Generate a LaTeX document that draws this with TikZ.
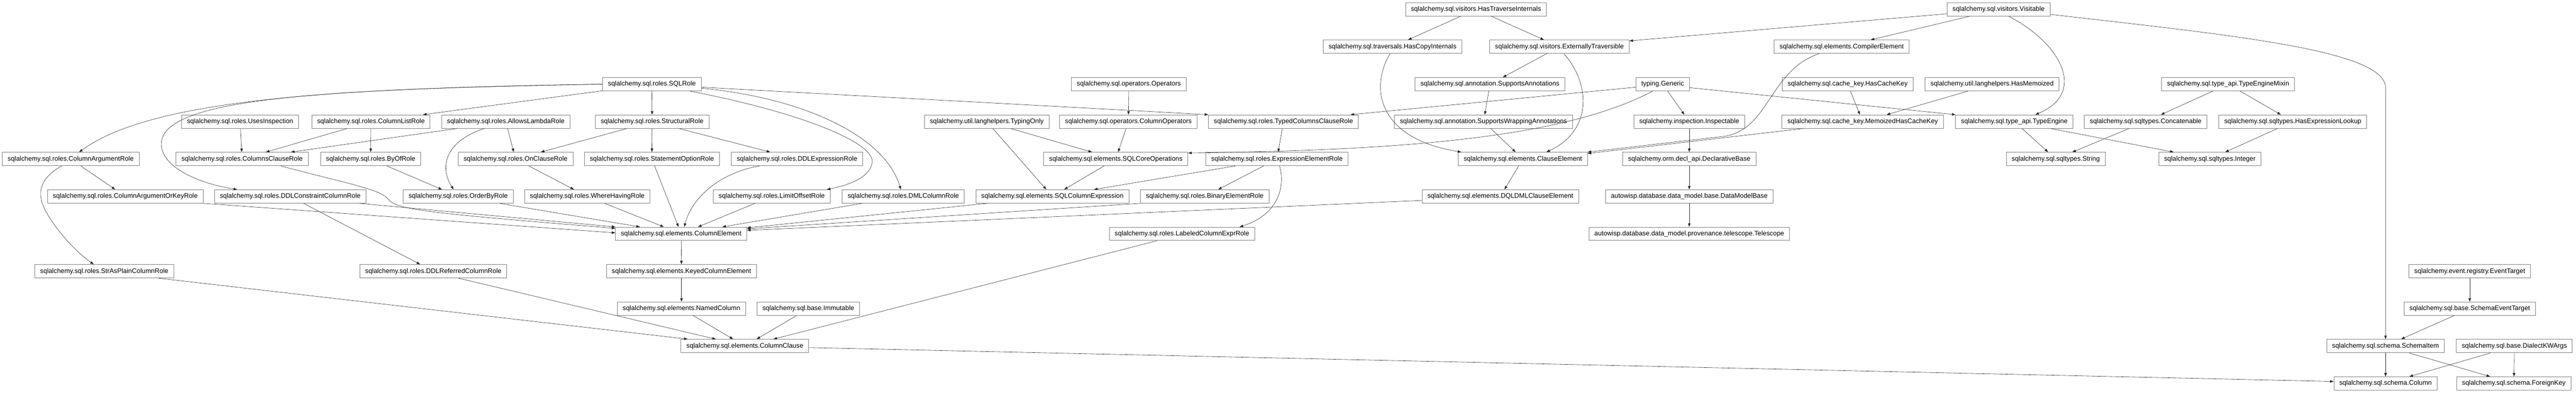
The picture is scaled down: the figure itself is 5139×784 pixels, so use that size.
\documentclass[tikz,border=0pt]{standalone}
\usepackage{fontspec}
\setmainfont{Liberation Sans}
\usetikzlibrary{arrows.meta}

\begin{document}
\begin{tikzpicture}[x=1pt,y=-1pt]
    \useasboundingbox (0,0) rectangle (5139,784);
    \begin{scope}[every node/.style={rectangle,draw=black!50,line width=1pt,
        inner xsep=10.8pt,inner ysep=0pt,minimum height=26.7pt,
        text height=9.6pt,text depth=2.6pt,font={\fontsize{13.2}{15}\selectfont}}]
        % row 0
        \node(hastraverse) at (2944.5,18.7) {sqlalchemy.sql.visitors.HasTraverseInternals};
        \node(visitable) at (3987,18.7) {sqlalchemy.sql.visitors.Visitable};
        % row 1
        \node(hascopy) at (2778,93.35) {sqlalchemy.sql.traversals.HasCopyInternals};
        \node(externtrav) at (3111,93.35) {sqlalchemy.sql.visitors.ExternallyTraversible};
        \node(compilerelem) at (3674,93.35) {sqlalchemy.sql.elements.CompilerElement};
        % row 2
        \node(sqlrole) at (1300.5,168) {sqlalchemy.sql.roles.SQLRole};
        \node(operators) at (2252,168) {sqlalchemy.sql.operators.Operators};
        \node(suppannot) at (2972.5,168) {sqlalchemy.sql.annotation.SupportsAnnotations};
        \node(generic) at (3317,168) {typing.Generic};
        \node(hascachekey) at (3686,168) {sqlalchemy.sql.cache\_key.HasCacheKey};
        \node(hasmemoized) at (3974,168) {sqlalchemy.util.langhelpers.HasMemoized};
        \node(typemixin) at (4445,168) {sqlalchemy.sql.type\_api.TypeEngineMixin};
        % row 3
        \node(usesinsp) at (479,242.65) {sqlalchemy.sql.roles.UsesInspection};
        \node(collist) at (740,242.65) {sqlalchemy.sql.roles.ColumnListRole};
        \node(allowslambda) at (1009,242.65) {sqlalchemy.sql.roles.AllowsLambdaRole};
        \node(structural) at (1301,242.65) {sqlalchemy.sql.roles.StructuralRole};
        \node(typingonly) at (1968.5,242.65) {sqlalchemy.util.langhelpers.TypingOnly};
        \node(colops) at (2251,242.65) {sqlalchemy.sql.operators.ColumnOperators};
        \node(typedcols) at (2560.5,242.65) {sqlalchemy.sql.roles.TypedColumnsClauseRole};
        \node(suppwrap) at (2959.5,242.65) {sqlalchemy.sql.annotation.SupportsWrappingAnnotations};
        \node(inspectable) at (3370,242.65) {sqlalchemy.inspection.Inspectable};
        \node(memoizedhck) at (3716,242.65) {sqlalchemy.sql.cache\_key.MemoizedHasCacheKey};
        \node(typeengine) at (4018.5,242.65) {sqlalchemy.sql.type\_api.TypeEngine};
        \node(concatenable) at (4280.5,242.65) {sqlalchemy.sql.sqltypes.Concatenable};
        \node(hasexprlookup) at (4574,242.65) {sqlalchemy.sql.sqltypes.HasExpressionLookup};
        % row 4
        \node(colarg) at (141,317.3) {sqlalchemy.sql.roles.ColumnArgumentRole};
        \node(colsclause) at (483,317.3) {sqlalchemy.sql.roles.ColumnsClauseRole};
        \node(byof) at (739.5,317.3) {sqlalchemy.sql.roles.ByOfRole};
        \node(onclause) at (1028.5,317.3) {sqlalchemy.sql.roles.OnClauseRole};
        \node(stmtoption) at (1300.5,317.3) {sqlalchemy.sql.roles.StatementOptionRole};
        \node(ddlexpr) at (1590,317.3) {sqlalchemy.sql.roles.DDLExpressionRole};
        \node(sqlcoreops) at (2226,317.3) {sqlalchemy.sql.elements.SQLCoreOperations};
        \node(exprelem) at (2547.5,317.3) {sqlalchemy.sql.roles.ExpressionElementRole};
        \node(clauseelem) at (3038,317.3) {sqlalchemy.sql.elements.ClauseElement};
        \node(declbase) at (3370,317.3) {sqlalchemy.orm.decl\_api.DeclarativeBase};
        \node(string) at (4101,317.3) {sqlalchemy.sql.sqltypes.String};
        \node(integer) at (4408.5,317.3) {sqlalchemy.sql.sqltypes.Integer};
        % row 5
        \node(colargkey) at (250,391.95) {sqlalchemy.sql.roles.ColumnArgumentOrKeyRole};
        \node(ddlconstraint) at (579,391.95) {sqlalchemy.sql.roles.DDLConstraintColumnRole};
        \node(orderby) at (914,391.95) {sqlalchemy.sql.roles.OrderByRole};
        \node(wherehaving) at (1171.5,391.95) {sqlalchemy.sql.roles.WhereHavingRole};
        \node(limitoffset) at (1539.5,391.95) {sqlalchemy.sql.roles.LimitOffsetRole};
        \node(dmlcolumn) at (1802,391.95) {sqlalchemy.sql.roles.DMLColumnRole};
        \node(sqlcolexpr) at (2099.5,391.95) {sqlalchemy.sql.elements.SQLColumnExpression};
        \node(binaryelem) at (2403.5,391.95) {sqlalchemy.sql.roles.BinaryElementRole};
        \node(dqldml) at (2993,391.95) {sqlalchemy.sql.elements.DQLDMLClauseElement};
        \node(datamodelbase) at (3370,391.95) {autowisp.database.data\_model.base.DataModelBase};
        % row 6
        \node(colelement) at (1359,466.6) {sqlalchemy.sql.elements.ColumnElement};
        \node(labeledcol) at (2358,466.6) {sqlalchemy.sql.roles.LabeledColumnExprRole};
        \node(telescope) at (3370,466.6) {autowisp.database.data\_model.provenance.telescope.Telescope};
        % row 7
        \node(strasplain) at (208,541.25) {sqlalchemy.sql.roles.StrAsPlainColumnRole};
        \node(ddlreferred) at (864.5,541.25) {sqlalchemy.sql.roles.DDLReferredColumnRole};
        \node(keyedcol) at (1359.5,541.25) {sqlalchemy.sql.elements.KeyedColumnElement};
        \node(eventtarget) at (4927,541.25) {sqlalchemy.event.registry.EventTarget};
        % row 8
        \node(namedcol) at (1359.5,615.9) {sqlalchemy.sql.elements.NamedColumn};
        \node(immutable) at (1612.5,615.9) {sqlalchemy.sql.base.Immutable};
        \node(schemaevent) at (4927,615.9) {sqlalchemy.sql.base.SchemaEventTarget};
        % row 9
        \node(colclause) at (1486,690.55) {sqlalchemy.sql.elements.ColumnClause};
        \node(schemaitem) at (4759,690.55) {sqlalchemy.sql.schema.SchemaItem};
        \node(dialectkw) at (5016,690.55) {sqlalchemy.sql.base.DialectKWArgs};
        % row 10
        \node(schemacolumn) at (4759,765.2) {sqlalchemy.sql.schema.Column};
        \node(foreignkey) at (5015,765.2) {sqlalchemy.sql.schema.ForeignKey};
    \end{scope}
    %Lines
    \begin{scope}[>={Triangle[length=7pt,width=5pt]}, line width=0.6pt, draw=black!85]
        \draw[->] (sqlrole.west) .. controls (650,176) and (300,200) .. ([xshift=17pt]colarg.north);
        \draw[->] (sqlrole.west) .. controls (650,178) and (330,195) .. (322,284) .. controls (318,330) and (390,365) .. ([xshift=-106pt]ddlconstraint.north);
        \draw[->] ([xshift=-18pt]colarg.south) .. controls (85,352) and (78,378) .. (82,395) .. controls (84,425) and (140,495) .. ([xshift=-21pt]strasplain.north);
        \draw[->] (colarg) -- (colargkey);
        \draw[->] (sqlrole) -- (collist);
        \draw[->] (collist) -- (colsclause);
        \draw[->] (collist) -- (byof);
        \draw[->] (usesinsp) -- (colsclause);
        \draw[->] (allowslambda) -- (colsclause);
        \draw[->] ([xshift=-43pt]allowslambda.south) .. controls (880,285) and (880,340) .. ([xshift=-9pt]orderby.north);
        \draw[->] (allowslambda) -- (onclause);
        \draw[->] (structural) -- (onclause);
        \draw[->] (onclause) -- (wherehaving);
        \draw[->] (byof) -- (orderby);
        \draw[->] (sqlrole) -- (structural);
        \draw[->] (structural) -- (stmtoption);
        \draw[->] (structural) -- (ddlexpr);
        \draw[->] ([yshift=-8pt]sqlrole.east) .. controls (1600,195) and (1765,270) .. ([xshift=-5pt]dmlcolumn.north);
        \draw[->] ([xshift=76pt]sqlrole.south) .. controls (1600,225) and (1745,285) .. (1740,324) .. controls (1736,352) and (1700,368) .. ([xshift=110pt]limitoffset.north);
        \draw[->] (stmtoption) -- (colelement);
        \draw[->] ([xshift=-75pt]ddlexpr.south) .. controls (1435,345) and (1380,395) .. ([xshift=6pt]colelement.north);
        \draw[->] (limitoffset) -- (colelement);
        \draw[->] (dmlcolumn) -- (colelement);
        \draw[->] (orderby) -- (colelement);
        \draw[->] (wherehaving) -- (colelement);
        \draw[->] ([xshift=138pt]ddlconstraint.south) -- (colelement.north west);
        \draw[->] ([xshift=77pt]colsclause.south) .. controls (700,368) and (760,378) .. (775,398) .. controls (790,418) and (850,425) .. ([yshift=11pt]colelement.west);
        \draw[->] (colargkey.south east) -- ([yshift=2pt]colelement.west);
        \draw[->] ([xshift=-130pt]sqlcolexpr.south) -- ([yshift=12pt]colelement.east);
        \draw[->] (binaryelem.south west) -- ([yshift=10pt]colelement.east);
        \draw[->] ([yshift=-8pt]dqldml.west) -- ([yshift=7pt]colelement.east);
        \draw[->] (colelement) -- (keyedcol);
        \draw[->] (keyedcol) -- (namedcol);
        \draw[->] (namedcol) -- (colclause);
        \draw[->] (immutable) -- (colclause);
        \draw[->] ([xshift=50pt]ddlreferred.south) -- ([xshift=-58pt]colclause.north);
        \draw[->] ([xshift=108pt]strasplain.south) -- ([xshift=-114pt]colclause.north);
        \draw[->] ([xshift=-50pt]labeledcol.south) -- ([xshift=57pt]colclause.north);
        \draw[->] ([yshift=-3pt]colclause.east) -- ([yshift=4pt]schemacolumn.west);
        \draw[->] (ddlconstraint) -- (ddlreferred);
        \draw[->] (exprelem) -- (sqlcolexpr);
        \draw[->] (exprelem) -- (binaryelem);
        \draw[->] ([xshift=5pt]exprelem.south) .. controls (2562,360) and (2560,425) .. ([xshift=115pt]labeledcol.north);
        \draw[->] (typedcols) -- (exprelem);
        \draw[->] ([yshift=-6pt]sqlrole.east) -- (typedcols.north west);
        \draw[->] ([yshift=-6pt]generic.west) -- ([xshift=134pt]typedcols.north);
        \draw[->] (operators) -- (colops);
        \draw[->] (colops) -- (sqlcoreops);
        \draw[->] (typingonly) -- (sqlcoreops);
        \draw[->] (typingonly) -- (sqlcolexpr);
        \draw[->] (sqlcoreops) -- (sqlcolexpr);
        \draw[->] ([xshift=-20pt]generic.south) .. controls (3120,275) and (2800,300) .. ([yshift=12pt]sqlcoreops.east);
        \draw[->] (suppannot) -- (suppwrap);
        \draw[->] (externtrav) -- (suppannot);
        \draw[->] (hastraverse) -- (hascopy);
        \draw[->] (hastraverse) -- (externtrav);
        \draw[->] (visitable) -- (externtrav);
        \draw[->] (visitable) -- (compilerelem);
        \draw[->] ([xshift=20pt]visitable.south) .. controls (4110,85) and (4165,185) .. ([xshift=42pt]typeengine.north);
        \draw[->] ([yshift=-10pt]visitable.east) .. controls (4450,70) and (4759,100) .. (4759,175) -- (schemaitem.north);
        \draw[->] ([xshift=-45pt]compilerelem.south) .. controls (3530,140) and (3530,258) .. (3440,272) -- (clauseelem.north east);
        \draw[->] ([xshift=-119pt]memoizedhck.south) -- ([yshift=11pt]clauseelem.east);
        \draw[->] ([xshift=9pt]externtrav.south) .. controls (3175,170) and (3175,262) .. ([xshift=47pt]clauseelem.north);
        \draw[->] (suppwrap) -- (clauseelem);
        \draw[->] ([xshift=-5pt]hascopy.south) .. controls (2735,170) and (2742,275) .. ([xshift=-123pt]clauseelem.north);
        \draw[->] (clauseelem) -- (dqldml);
        \draw[->] (generic) -- (inspectable);
        \draw[->] (inspectable) -- (declbase);
        \draw[->] (declbase) -- (datamodelbase);
        \draw[->] (datamodelbase) -- (telescope);
        \draw[->] ([yshift=-7pt]generic.east) -- (typeengine.north west);
        \draw[->] (hascachekey) -- (memoizedhck);
        \draw[->] (hasmemoized) -- (memoizedhck);
        \draw[->] (typemixin) -- (concatenable);
        \draw[->] (typemixin) -- (hasexprlookup);
        \draw[->] (typeengine) -- (string);
        \draw[->] (typeengine) -- (integer);
        \draw[->] (concatenable) -- (string);
        \draw[->] (hasexprlookup) -- (integer);
        \draw[->] (eventtarget) -- (schemaevent);
        \draw[->] (schemaevent) -- (schemaitem);
        \draw[->] (schemaitem) -- (schemacolumn);
        \draw[->] (schemaitem) -- (foreignkey);
        \draw[->] (dialectkw) -- (schemacolumn);
        \draw[->] (dialectkw) -- (foreignkey);
    \end{scope}
\end{tikzpicture}
\end{document}
